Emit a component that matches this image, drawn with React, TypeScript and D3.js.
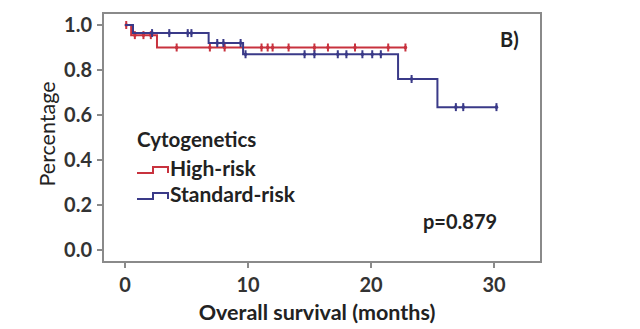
import React from "react";
import * as d3 from "d3";

// Step points: [time (months), survival after that time]
const highRiskSteps: [number, number][] = [
  [0, 1.0], [0.5, 0.955], [2.6, 0.9], [22.8, 0.9],
];
const standardRiskSteps: [number, number][] = [
  [0, 1.0], [0.65, 0.964], [6.8, 0.92], [9.6, 0.87], [22.2, 0.76], [25.4, 0.635], [30.2, 0.635],
];
const highRiskCensored: number[] = [0.1, 0.8, 1.5, 2.1, 4.2, 6.9, 8.1, 11.1, 11.6, 12.0, 13.3, 15.4, 16.5, 18.7, 21.4, 22.8];
const standardRiskCensored: number[] = [2.2, 3.6, 5.1, 5.4, 7.5, 8.0, 9.4, 9.8, 14.6, 15.4, 17.3, 18.0, 19.3, 20.1, 20.8, 23.3, 26.9, 27.5, 30.2];
const xTicks: number[] = [0, 10, 20, 30];
const yTicks: number[] = [0, 0.2, 0.4, 0.6, 0.8, 1.0];
const seriesNames: string[] = ["High-risk", "Standard-risk"];

const RED = "#c8323e";
const BLUE = "#3a3a88";
const FONT = "Lato, 'Open Sans', sans-serif";

function survAt(steps: [number, number][], t: number): number {
  let v = steps[0][1];
  for (const [tt, s] of steps) if (tt <= t) v = s;
  return v;
}

export default function App() {
  const x = d3.scaleLinear().domain([0, 30]).range([125, 494]);
  const y = d3.scaleLinear().domain([0, 1]).range([250, 25]);
  const line = d3.line<[number, number]>().x(d => x(d[0])).y(d => y(d[1])).curve(d3.curveStepAfter);

  const series = [
    { steps: highRiskSteps, cens: highRiskCensored, color: RED },
    { steps: standardRiskSteps, cens: standardRiskCensored, color: BLUE },
  ];

  const legendY = [171, 197];
  const legendBase = [176, 202];

  return (
    <svg width={640} height={329} style={{ position: "absolute", left: 0, top: 0, background: "#fff" }}>
      <rect x={0} y={0} width={640} height={329} fill="#fff" />
      {/* frame */}
      <rect x={103} y={13} width={438} height={249} fill="none" stroke="#8a8a8a" strokeWidth={2} />
      {/* y ticks */}
      {yTicks.map(t => (
        <g key={"y" + t}>
          <line x1={97} x2={103} y1={y(t)} y2={y(t)} stroke="#8a8a8a" strokeWidth={2} />
          <text x={92} y={y(t) + 7} textAnchor="end" fontFamily={FONT} fontWeight={700} fontSize={20} fill="#333">
            {t.toFixed(1)}
          </text>
        </g>
      ))}
      {/* x ticks */}
      {xTicks.map(t => (
        <g key={"x" + t}>
          <line x1={x(t)} x2={x(t)} y1={262} y2={268} stroke="#8a8a8a" strokeWidth={2} />
          <text x={x(t)} y={292} textAnchor="middle" fontFamily={FONT} fontWeight={700} fontSize={20} fill="#333">
            {t}
          </text>
        </g>
      ))}
      <text x={317} y={320} textAnchor="middle" fontFamily={FONT} fontWeight={700} fontSize={21.5} fill="#222">
        Overall survival (months)
      </text>
      <text transform="translate(55,134) rotate(-90)" textAnchor="middle" fontFamily={FONT} fontWeight={400} fontSize={21.5} fill="#222">
        Percentage
      </text>
      {/* curves */}
      {series.map((s, i) => (
        <g key={"s" + i}>
          <path d={line(s.steps) || ""} fill="none" stroke={s.color} strokeWidth={2} />
          {s.cens.map((c, j) => (
            <g key={j}>
              <line x1={x(c)} x2={x(c)} y1={y(survAt(s.steps, c)) - 4} y2={y(survAt(s.steps, c)) + 4} stroke={s.color} strokeWidth={2} />
              <circle cx={x(c)} cy={y(survAt(s.steps, c))} r={1.8} fill={s.color} />
            </g>
          ))}
        </g>
      ))}
      {/* legend */}
      <text x={137} y={147} fontFamily={FONT} fontWeight={700} fontSize={20.5} fill="#222">Cytogenetics</text>
      {seriesNames.map((n, i) => (
        <g key={n}>
          <path
            d={`M137,${legendY[i] + 2} H153 V${legendY[i] - 4} H168 V${legendY[i] + 2}`}
            fill="none"
            stroke={series[i].color}
            strokeWidth={2}
          />
          <text x={170} y={legendBase[i]} fontFamily={FONT} fontWeight={700} fontSize={21} fill="#222">{n}</text>
        </g>
      ))}
      <text x={500} y={47} fontFamily={FONT} fontWeight={700} fontSize={20} fill="#222">B)</text>
      <text x={423} y={229} fontFamily={FONT} fontWeight={700} fontSize={20} fill="#222">p=0.879</text>
    </svg>
  );
}
